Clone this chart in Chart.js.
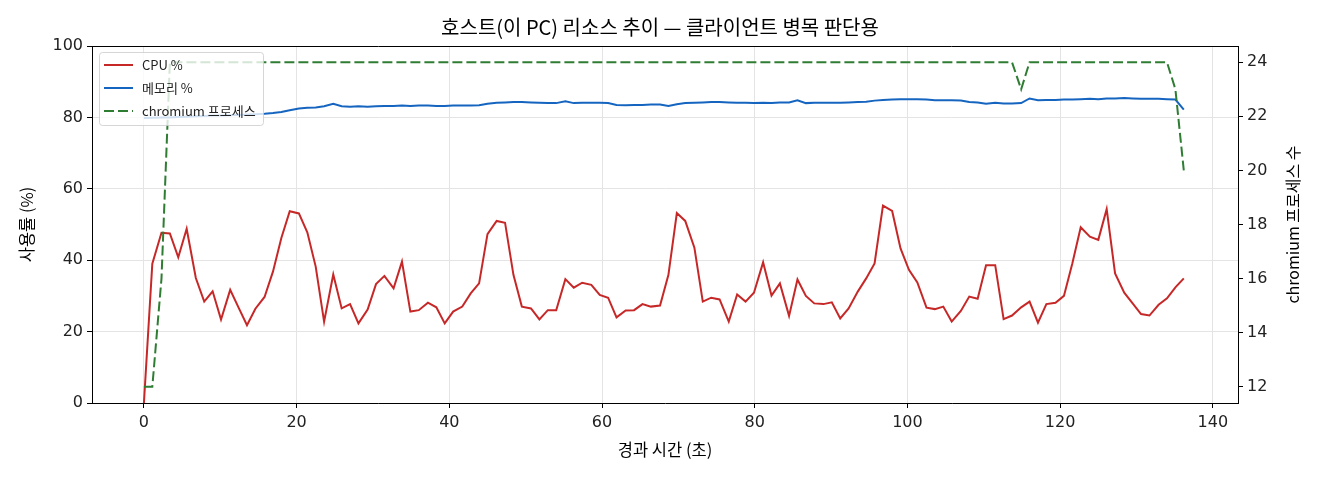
<!DOCTYPE html>
<html>
<head>
<meta charset="utf-8">
<title>호스트 리소스 추이</title>
<script src="https://cdn.jsdelivr.net/npm/chart.js@4.4.1/dist/chart.umd.min.js"></script>
<style>
  html, body { margin: 0; padding: 0; background: #fff; }
</style>
</head>
<body>
<canvas id="hostChart" width="1320" height="480"></canvas>
<script>
// elapsed seconds of each sample
const elapsedSec = [
  0, 1.1, 2.3, 3.4, 4.5, 5.6, 6.8, 7.9, 9.0, 10.1,
  11.3, 12.4, 13.5, 14.6, 15.8, 16.9, 18.0, 19.1, 20.3, 21.4,
  22.5, 23.6, 24.8, 25.9, 27.0, 28.1, 29.3, 30.4, 31.5, 32.7,
  33.8, 34.9, 36.0, 37.2, 38.3, 39.4, 40.5, 41.7, 42.8, 43.9,
  45.0, 46.2, 47.3, 48.4, 49.5, 50.7, 51.8, 52.9, 54.0, 55.2,
  56.3, 57.4, 58.6, 59.7, 60.8, 61.9, 63.1, 64.2, 65.3, 66.4,
  67.6, 68.7, 69.8, 70.9, 72.1, 73.2, 74.3, 75.4, 76.6, 77.7,
  78.8, 79.9, 81.1, 82.2, 83.3, 84.5, 85.6, 86.7, 87.8, 89.0,
  90.1, 91.2, 92.3, 93.5, 94.6, 95.7, 96.8, 98.0, 99.1, 100.2,
  101.3, 102.5, 103.6, 104.7, 105.8, 107.0, 108.1, 109.2, 110.3, 111.5,
  112.6, 113.7, 114.9, 116.0, 117.1, 118.2, 119.4, 120.5, 121.6, 122.7,
  123.9, 125.0, 126.1, 127.2, 128.4, 129.5, 130.6, 131.7, 132.9, 134.0,
  135.1, 136.2
];

const cpuPct = [
  0, 39.0, 47.7, 47.5, 40.8, 48.8, 35.0, 28.4, 31.3, 23.4,
  31.7, 26.7, 21.8, 26.4, 29.7, 36.8, 46.2, 53.7, 53.1, 47.8,
  38.2, 22.8, 36.0, 26.5, 27.7, 22.3, 26.2, 33.3, 35.6, 32.1,
  39.6, 25.6, 26.0, 28.1, 26.8, 22.3, 25.6, 27.0, 30.7, 33.5,
  47.3, 51.0, 50.5, 35.9, 27.0, 26.5, 23.4, 26.0, 26.0, 34.7,
  32.3, 33.7, 33.1, 30.3, 29.5, 24.0, 25.9, 26.0, 27.7, 27.0,
  27.3, 35.9, 53.2, 51.0, 43.5, 28.4, 29.5, 29.0, 22.8, 30.4,
  28.4, 30.9, 39.4, 30.1, 33.5, 24.4, 34.6, 30.0, 27.9, 27.7,
  28.2, 23.7, 26.5, 31.2, 34.9, 39.1, 55.3, 53.8, 43.3, 37.3,
  33.8, 26.7, 26.3, 27.0, 22.8, 25.8, 29.8, 29.2, 38.6, 38.6,
  23.5, 24.5, 26.8, 28.4, 22.5, 27.7, 28.1, 30.0, 39.1, 49.2,
  46.6, 45.7, 54.3, 36.3, 30.9, 27.9, 24.9, 24.5, 27.5, 29.3,
  32.4, 34.9
];

const memPct = [
  79.8, 79.9, 80.0, 80.0, 80.1, 80.2, 80.3, 80.4, 80.5, 80.5,
  80.6, 80.7, 80.8, 80.9, 81.0, 81.2, 81.5, 82.0, 82.5, 82.7,
  82.8, 83.1, 83.8, 83.1, 83.0, 83.1, 83.0, 83.1, 83.2, 83.2,
  83.3, 83.2, 83.3, 83.3, 83.2, 83.2, 83.3, 83.3, 83.3, 83.4,
  83.8, 84.1, 84.2, 84.3, 84.3, 84.2, 84.1, 84.0, 84.0, 84.5,
  84.0, 84.1, 84.1, 84.1, 84.0, 83.5, 83.4, 83.5, 83.5, 83.6,
  83.6, 83.2, 83.7, 84.0, 84.1, 84.2, 84.3, 84.3, 84.2, 84.1,
  84.1, 84.0, 84.1, 84.0, 84.2, 84.2, 84.8, 84.0, 84.1, 84.1,
  84.1, 84.1, 84.2, 84.3, 84.4, 84.7, 84.9, 85.0, 85.1, 85.1,
  85.1, 85.0, 84.8, 84.8, 84.8, 84.7, 84.3, 84.2, 83.8, 84.1,
  83.9, 83.9, 84.0, 85.3, 84.8, 84.9, 84.9, 85.0, 85.0, 85.1,
  85.2, 85.1, 85.3, 85.3, 85.4, 85.3, 85.2, 85.2, 85.2, 85.1,
  85.0, 82.2
];

const chromiumProcs = [
  12, 12, 16, 24, 24, 24, 24, 24, 24, 24,
  24, 24, 24, 24, 24, 24, 24, 24, 24, 24,
  24, 24, 24, 24, 24, 24, 24, 24, 24, 24,
  24, 24, 24, 24, 24, 24, 24, 24, 24, 24,
  24, 24, 24, 24, 24, 24, 24, 24, 24, 24,
  24, 24, 24, 24, 24, 24, 24, 24, 24, 24,
  24, 24, 24, 24, 24, 24, 24, 24, 24, 24,
  24, 24, 24, 24, 24, 24, 24, 24, 24, 24,
  24, 24, 24, 24, 24, 24, 24, 24, 24, 24,
  24, 24, 24, 24, 24, 24, 24, 24, 24, 24,
  24, 24, 23, 24, 24, 24, 24, 24, 24, 24,
  24, 24, 24, 24, 24, 24, 24, 24, 24, 24,
  23, 20
];

const xTicks = [0, 20, 40, 60, 80, 100, 120, 140];
const pctTicks = [0, 20, 40, 60, 80, 100];
const procTicks = [12, 14, 16, 18, 20, 22, 24];

const KR = '"Noto Sans CJK KR", "DejaVu Sans", sans-serif';
const NUM = '"DejaVu Sans", sans-serif';
const rightTitle = 'chromium 프로세스 수';

const pts = (ys) => elapsedSec.map((t, i) => ({ x: t, y: ys[i] }));

// matplotlib look: top spine, right axis label read bottom-up, legend inside the axes
const frameAndLegend = {
  id: 'frameAndLegend',
  afterDraw(chart) {
    const { ctx, chartArea: a } = chart;
    ctx.save();
    ctx.strokeStyle = '#000';
    ctx.lineWidth = 1;
    ctx.beginPath();
    ctx.moveTo(a.left, Math.round(a.top) + 0.5);
    ctx.lineTo(a.right, Math.round(a.top) + 0.5);
    ctx.stroke();

    ctx.save();
    ctx.translate(chart.width - 27, (a.top + a.bottom) / 2);
    ctx.rotate(-Math.PI / 2);
    ctx.font = '16px ' + KR;
    ctx.fillStyle = '#000';
    ctx.textAlign = 'center';
    ctx.textBaseline = 'middle';
    ctx.fillText(rightTitle, 0, 0);
    ctx.restore();

    const x0 = a.left + 7, y0 = a.top + 6, w = 164, h = 73;
    ctx.beginPath();
    ctx.roundRect(x0 + 0.5, y0 + 0.5, w, h, 3);
    ctx.fillStyle = 'rgba(255,255,255,0.8)';
    ctx.fill();
    ctx.strokeStyle = 'rgba(204,204,204,0.8)';
    ctx.stroke();

    ctx.font = '13px ' + KR;
    ctx.textBaseline = 'middle';
    chart.data.datasets.forEach((ds, i) => {
      const y = y0 + 13 + i * 23;
      ctx.strokeStyle = ds.borderColor;
      ctx.lineWidth = ds.borderWidth;
      ctx.setLineDash(ds.borderDash || []);
      ctx.beginPath();
      ctx.moveTo(x0 + 5, y);
      ctx.lineTo(x0 + 34, y);
      ctx.stroke();
      ctx.setLineDash([]);
      ctx.fillStyle = '#222';
      ctx.fillText(ds.label, x0 + 43, y);
    });
    ctx.restore();
  }
};

new Chart(document.getElementById('hostChart').getContext('2d'), {
  type: 'line',
  data: {
    datasets: [
      {
        label: 'CPU %',
        data: pts(cpuPct),
        borderColor: '#c62828',
        borderWidth: 2,
        yAxisID: 'y',
        order: 3
      },
      {
        label: '메모리 %',
        data: pts(memPct),
        borderColor: '#1565c0',
        borderWidth: 2,
        yAxisID: 'y',
        order: 2
      },
      {
        label: 'chromium 프로세스',
        data: pts(chromiumProcs),
        borderColor: '#2e7d32',
        borderWidth: 2,
        borderDash: [10, 4],
        yAxisID: 'y2',
        order: 1
      }
    ]
  },
  options: {
    responsive: false,
    devicePixelRatio: 1,
    animation: false,
    layout: { padding: 0 },
    elements: {
      point: { radius: 0 },
      line: { tension: 0, fill: false }
    },
    plugins: {
      legend: { display: false },
      tooltip: { enabled: false },
      title: {
        display: true,
        text: '호스트(이 PC) 리소스 추이 — 클라이언트 병목 판단용',
        color: '#000',
        font: { family: KR, size: 20, weight: 'normal', lineHeight: 1.2 },
        padding: { top: 15, bottom: 7 }
      }
    },
    scales: {
      x: {
        type: 'linear',
        min: -6.8,
        max: 143.3,
        afterBuildTicks: (s) => { s.ticks = xTicks.map(v => ({ value: v })); },
        afterFit: (s) => { s.height = 77; },
        grid: { color: '#e4e4e4', tickColor: '#000', tickLength: 5 },
        border: { display: true, color: '#000', width: 1 },
        ticks: { color: '#222', padding: 5, font: { family: NUM, size: 16 } },
        title: {
          display: true,
          text: '경과 시간 (초)',
          color: '#000',
          font: { family: KR, size: 16.5 },
          padding: { top: 0, bottom: 20 }
        }
      },
      y: {
        position: 'left',
        min: 0,
        max: 100,
        afterBuildTicks: (s) => { s.ticks = pctTicks.map(v => ({ value: v })); },
        afterFit: (s) => { s.width = 92; },
        grid: { color: '#e4e4e4', tickColor: '#000', tickLength: 5 },
        border: { display: true, color: '#000', width: 1 },
        ticks: { color: '#222', padding: 4, font: { family: NUM, size: 16 } },
        title: {
          display: true,
          text: '사용률 (%)',
          color: '#000',
          font: { family: KR, size: 16.5 },
          padding: { top: 17, bottom: 0 }
        }
      },
      y2: {
        position: 'right',
        min: 11.4,
        max: 24.6,
        afterBuildTicks: (s) => { s.ticks = procTicks.map(v => ({ value: v })); },
        afterFit: (s) => { s.width = 82; },
        grid: { drawOnChartArea: false, tickColor: '#000', tickLength: 5 },
        border: { display: true, color: '#000', width: 1 },
        ticks: { color: '#222', padding: 4, font: { family: NUM, size: 16 } },
        title: { display: false }
      }
    }
  },
  plugins: [frameAndLegend]
});
</script>
</body>
</html>
